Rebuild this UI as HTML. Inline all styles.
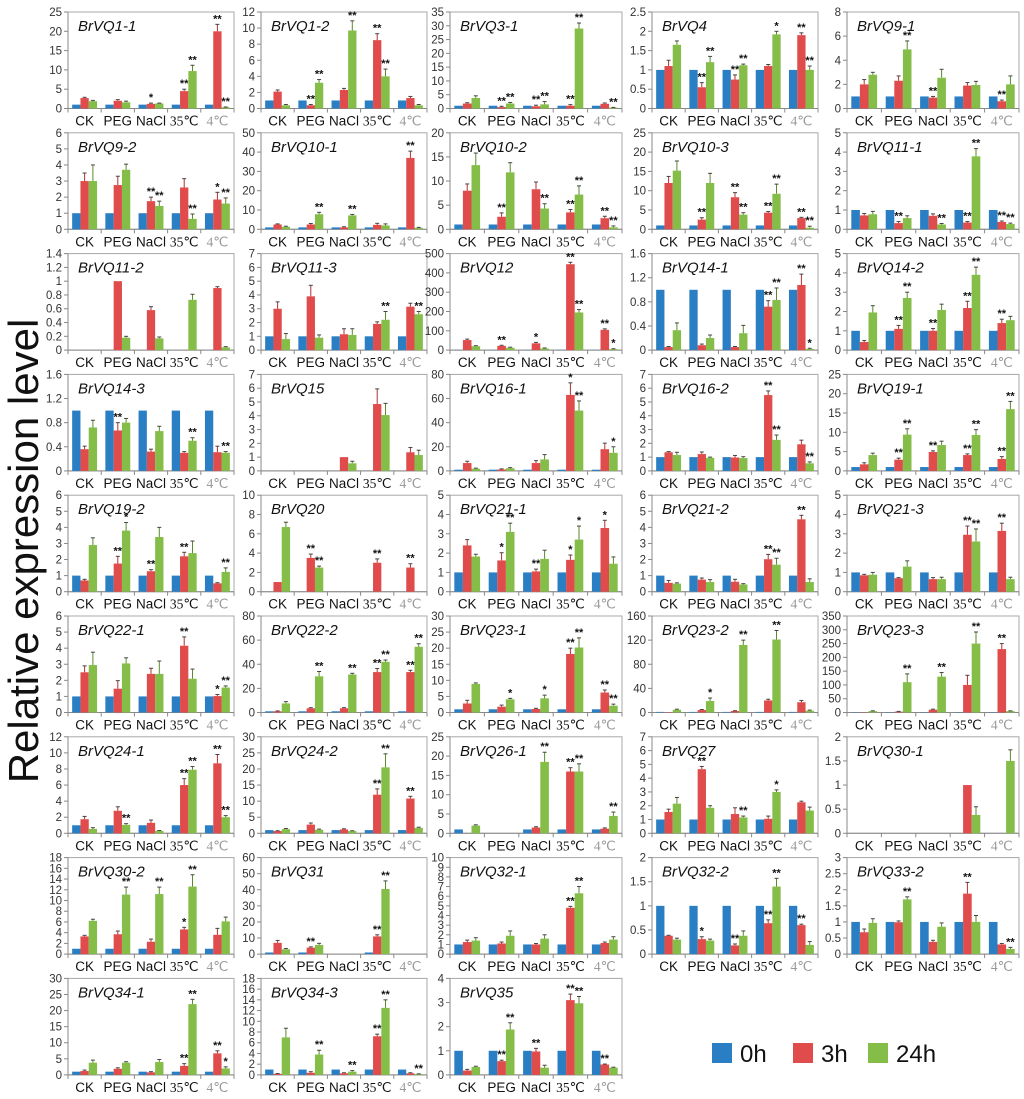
<!DOCTYPE html>
<html><head><meta charset="utf-8"><style>
body{margin:0;background:#fff;}
svg{display:block;font-family:"Liberation Sans",sans-serif;}
</style></head><body>
<svg id="fig" width="1024" height="1099" viewBox="0 0 1024 1099" xmlns="http://www.w3.org/2000/svg">
<rect width="1024" height="1099" fill="#fff"/>
<text transform="translate(38,551) rotate(-90)" text-anchor="middle" font-size="42" fill="#111">Relative expression level</text>
<g>
<rect x="712" y="1043" width="20" height="20" fill="#2a7fc4"/>
<text x="740" y="1062" font-size="24" fill="#111">0h</text>
<rect x="793" y="1043" width="20" height="20" fill="#e04b4b"/>
<text x="821" y="1062" font-size="24" fill="#111">3h</text>
<rect x="868" y="1043" width="20" height="20" fill="#84bd47"/>
<text x="896" y="1062" font-size="24" fill="#111">24h</text>
</g>
</svg>
<script>
const categories=["CK","PEG","NaCl","35℃","4℃"];
const names=["BrVQ1-1","BrVQ1-2","BrVQ3-1","BrVQ4","BrVQ9-1","BrVQ9-2","BrVQ10-1","BrVQ10-2","BrVQ10-3","BrVQ11-1","BrVQ11-2","BrVQ11-3","BrVQ12","BrVQ14-1","BrVQ14-2","BrVQ14-3","BrVQ15","BrVQ16-1","BrVQ16-2","BrVQ19-1","BrVQ19-2","BrVQ20","BrVQ21-1","BrVQ21-2","BrVQ21-3","BrVQ22-1","BrVQ22-2","BrVQ23-1","BrVQ23-2","BrVQ23-3","BrVQ24-1","BrVQ24-2","BrVQ26-1","BrVQ27","BrVQ30-1","BrVQ30-2","BrVQ31","BrVQ32-1","BrVQ32-2","BrVQ33-2","BrVQ34-1","BrVQ34-3","BrVQ35"];
const yMax=[25,12,35,2.5,8,6,50,20,25,5,1.4,7,500,1.6,5,1.6,7,80,7,25,6,10,5,6,5,6,80,30,160,350,12,30,25,7,2,18,60,10,2,3,30,18,4];
const yStep=[5,2,5,0.5,2,1,10,5,5,1,0.2,1,100,0.4,1,0.4,1,20,1,5,1,2,1,1,1,1,20,5,40,50,2,5,5,1,0.5,2,10,1,0.5,0.5,5,2,1];
const Z=[0,0,0,0,0], O=[1,1,1,1,1];
const blue=[O,O,O,O,O,O,O,O,O,O,Z,O,O,O,O,O,Z,O,O,O,O,Z,O,O,O,O,O,O,O,O,O,O,[1,0,1,1,1],O,Z,O,[1,1,0,1,0],O,O,O,O,O,O];
const red=[[2.7,2,1.2,4.5,20],[2.1,0.4,2.3,8.5,1.3],[1.8,0.5,0.8,1,1.7],[1.1,0.55,0.75,1.1,1.9],[2,2.3,0.9,1.9,0.6],[3,2.75,1.75,2.6,1.85],[2.5,2.5,1,2.3,37],[8,2.6,8.3,3.5,2.3],[12,2.5,8.3,4.3,2.9],[0.72,0.32,0.7,0.35,0.38],[0,1,0.58,0,0.9],[3,3.9,1.15,1.9,3.15],[52,22,35,445,105],[0.05,0.08,0.05,0.72,1.08],[0.42,1.1,1,2.18,1.4],[0.36,0.67,0.32,0.3,0.31],[0,0,1,4.85,1.35],[6.5,1.2,6.5,63,18],[1.35,1.22,0.97,5.5,1.93],[1.7,2.9,4.9,4.1,3.1],[0.7,1.75,1.27,2.2,0.52],[1,3.5,0,3,2.5],[2.4,1.62,1.05,1.65,3.3],[0.55,0.75,0.62,2.02,4.5],[0.85,0.7,0.65,2.95,3.15],[2.5,1.48,2.4,4.15,1.02],[1,3.5,3.5,33.5,33.5],[2.8,1.8,1.1,18.2,6.2],[0.5,4,2.5,20,17],[1,3,10,100,230],[1.75,2.8,1.3,6,8.7],[0.7,2.7,1.2,12,10.8],[0,0,1.5,16,1.2],[1.55,4.65,1.4,1.05,2.25],[0,0,0,1,0],[3.3,3.7,2.3,4.6,3.6],[7,4,0,11,0],[1.25,1.1,1,4.8,1.15],[0.38,0.31,0.18,0.64,0.6],[0.68,0.99,0.38,1.88,0.3],[1.2,1.9,0.8,2.8,6.7],[0.2,0.4,0.3,7.2,0.3],[0.18,0.57,0.97,3.1,0.43]];
const green=[[1.9,1.6,1.3,9.7,0.3],[0.4,3.2,9.7,4,0.4],[3.8,1.8,1.5,29,0.3],[1.65,1.2,1.12,1.92,1],[2.8,4.9,2.55,1.95,2],[3,3.7,1.45,0.65,1.6],[1.3,7.8,7.2,2,0.8],[13.3,11.8,4.3,7.2,0.4],[15.2,12,3.8,9.2,0.4],[0.78,0.58,0.25,3.78,0.27],[0,0.18,0.17,0.73,0.04],[0.8,0.9,1.1,2.2,2.6],[20,12,8,195,5],[0.33,0.2,0.28,0.83,0.02],[1.95,2.7,2.08,3.9,1.55],[0.72,0.8,0.66,0.5,0.3],[0,0,0.55,4.05,1.15],[1.8,2.2,9.5,50,15],[1.15,0.95,0.93,2.25,0.55],[4.1,9.4,6.7,9.3,16],[2.9,3.8,3.4,2.4,1.23],[6.7,2.5,0,0,0],[1.82,3.1,1.7,2.7,1.45],[0.5,0.6,0.45,1.68,0.6],[0.88,1.3,0.65,2.6,0.65],[2.95,3.05,2.4,2.1,1.55],[7.5,30,31.5,42,54.5],[8.9,4.1,4.4,20.2,2.1],[4.5,19,112,121,3],[5,110,130,250,5],[0.55,1.05,0.3,7.9,2],[1.3,1.1,0.7,20.5,1.7],[2,0,18.5,16,4.5],[2.15,1.85,1.15,3,1.65],[0,0,0,0.38,1.5],[6.2,11.1,11.2,12.6,6.1],[3,5.7,0,40.5,0],[1.4,1.9,1.6,6.3,1.5],[0.3,0.28,0.38,1.4,0.19],[0.97,1.7,0.85,1,0.16],[3.8,3.8,4,22,2],[7,3.8,0.6,12.5,0.15],[0.33,1.88,0.3,2.97,0.3]];
const errRed=[[0.2,0.3,0.2,0.5,1.8],[0.2,0.1,0.2,0.8,0.2],[0.3,0.3,0.4,0.4,0.3],[0.15,0.12,0.12,0.04,0.06],[0.4,0.4,0.1,0.25,0.1],[0.5,0.55,0.25,0.55,0.45],[0.3,0.5,0.3,0.8,3.5],[1.4,0.8,1.5,0.6,0.4],[1.7,0.5,1.2,0.3,0.2],[0.1,0.08,0.1,0.05,0.05],[0,0,0.05,0,0.02],[0.5,0.8,0.4,0.15,0.25],[5,3,5,10,5],[0.01,0.02,0.01,0.1,0.18],[0.08,0.18,0.12,0.35,0.2],[0.05,0.13,0.04,0.02,0.1],[0,0,0,1.1,0.35],[1.5,0.5,2,10,5],[0.05,0.15,0.15,0.3,0.3],[0.4,0.4,0.3,0.3,0.6],[0.07,0.45,0.1,0.25,0.04],[0,0.4,0,0.4,0.4],[0.3,0.4,0.12,0.25,0.4],[0.15,0.1,0.15,0.3,0.25],[0.05,0.03,0.08,0.45,0.4],[0.4,0.5,0.35,0.55,0.1],[0.3,0.5,0.5,3,1.5],[1,0.5,0.2,1.8,0.8],[0,1,0.5,2,3],[0,1,2,35,20],[0.35,0.5,0.35,0.8,1.1],[0.1,0.5,0.2,1.8,0.7],[0,0,0.2,1,0.2],[0.2,0.2,0.45,0.2,0.08],[0,0,0,0,0],[0.2,0.6,0.5,0.4,1.2],[1.5,0.5,0,1,0],[0.2,0.15,0.1,0.15,0.1],[0.01,0.05,0.03,0.07,0.02],[0.1,0.04,0.05,0.35,0.03],[0.3,0.3,0.2,0.7,0.8],[0.05,0.2,0.1,0.4,0.1],[0.05,0.04,0.13,0.25,0.02]];
const errGreen=[[0.2,0.3,0.1,1.5,0.1],[0.1,0.4,1.2,0.9,0.1],[0.8,0.4,1,2,0.1],[0.1,0.15,0.03,0.08,0.1],[0.2,0.7,0.7,0.3,0.7],[1,0.35,0.3,0.3,0.35],[0.3,1,0.5,0.8,0.2],[2.5,2,1,1.8,0.3],[2.5,2.5,0.5,2.5,0.4],[0.15,0.12,0.05,0.4,0.05],[0,0.02,0.02,0.08,0.01],[0.4,0.2,0.45,0.6,0.2],[3,3,3,15,2],[0.12,0.05,0.13,0.2,0.01],[0.35,0.3,0.3,0.4,0.2],[0.12,0.07,0.08,0.05,0.02],[0,0,0.15,0.85,0.35],[0.5,0.5,4,8,5],[0.2,0.05,0.1,0.35,0.1],[0.5,1.5,1,1.4,2],[0.45,0.5,0.6,0.75,0.25],[0.5,0.15,0,0,0],[0.12,0.45,0.45,0.7,0.35],[0.05,0.15,0.05,0.4,0.2],[0.12,0.3,0.1,0.65,0.1],[0.8,0.35,0.8,0.6,0.1],[1.5,4,1,1.5,2.5],[0.3,0.3,1,3,0.5],[1,5,8,15,1],[1,30,15,42,1],[0.15,0.15,0.05,0.4,0.2],[0.2,0.2,0.1,4.2,0.2],[0.2,0,2.5,2,1],[0.45,0.15,0.1,0.15,0.25],[0,0,0,0.17,0.23],[0.3,1.4,1.3,2.2,0.8],[0.5,1,0,5,0],[0.3,0.5,0.4,0.7,0.3],[0.03,0.03,0.1,0.17,0.07],[0.13,0.08,0.12,0.2,0.05],[0.8,0.3,0.8,1.5,0.5],[1.7,0.8,0.2,1.5,0.05],[0.03,0.28,0.1,0.28,0.02]];
const starRed=[[0,0,1,2,2],[0,2,0,2,0],[0,2,2,2,0],[0,2,2,0,2],[0,0,2,0,2],[0,0,2,0,1],[0,0,0,0,2],[0,2,0,2,2],[0,2,2,2,2],[0,2,0,2,2],Z,Z,[0,2,1,2,2],[0,0,0,2,2],[0,2,2,2,2],[0,2,0,0,0],Z,[0,0,0,1,0],[0,0,0,2,0],[0,2,2,2,2],[0,2,2,2,0],[0,2,0,2,2],[0,1,2,1,1],[0,0,0,2,2],[0,0,0,2,2],[0,0,0,2,1],[0,0,0,2,2],[0,0,0,2,2],Z,[0,0,0,0,2],[0,0,0,2,2],[0,0,0,2,2],[0,0,0,2,0],[0,2,0,0,0],Z,[0,0,0,1,0],[0,2,0,2,0],[0,0,0,2,0],[0,1,2,2,2],[0,0,0,2,0],[0,0,0,2,2],[0,0,0,2,0],[0,2,2,2,2]];
const starGreen=[[0,0,0,2,2],[0,2,2,2,0],[0,2,2,2,2],[0,2,2,1,2],[0,2,0,0,0],[0,0,2,2,2],[0,2,2,0,0],[0,0,2,2,2],[0,0,2,2,2],[0,0,2,2,2],Z,[0,0,0,2,2],[0,0,0,2,1],[0,0,0,2,1],[0,2,0,2,0],[0,0,0,2,2],Z,[0,0,0,2,1],[0,0,0,2,2],[0,2,0,2,2],[0,1,0,0,2],[0,2,0,0,0],[0,2,0,1,0],[0,0,0,2,0],[0,0,0,2,0],[0,0,0,0,2],[0,2,2,2,2],[0,1,1,2,2],[0,1,2,2,0],[0,2,2,2,0],[0,2,0,2,2],[0,0,0,2,0],[0,0,2,2,2],[0,0,2,1,0],Z,[0,2,2,2,0],[0,0,0,2,0],[0,0,0,2,0],[0,0,0,2,0],[0,2,0,0,2],[0,0,0,2,1],[0,2,2,2,2],[0,2,0,2,0]];

const NS="http://www.w3.org/2000/svg";
const svg=document.getElementById('fig');
const colLeft=[68,261,450,652,847], colW=[166,166,172,166,172];
const colors=["#2a7fc4","#e04b4b","#84bd47"];
function mk(tag,attrs,parent){const e=document.createElementNS(NS,tag);for(const k in attrs)e.setAttribute(k,attrs[k]);(parent||svg).appendChild(e);return e;}
function fmt(v){return String(parseFloat(v.toFixed(2)));}

names.forEach((nm,i)=>{
  const r=Math.floor(i/5), c=i%5;
  const L=colLeft[c], W=colW[c], T=12+r*120.8, H=96.5, B=T+H;
  const yS=v=>B-(Math.min(v,yMax[i])/yMax[i])*H;
  const g=mk('g',{});
  
  
  const fr=mk('rect',{x:L,y:T,width:W,height:H,fill:'none',stroke:'#a8a8a8','stroke-width':1},g);
  
  
  mk('line',{x1:L,y1:T,x2:L,y2:B,stroke:'#888','stroke-width':1},g);
  mk('line',{x1:L,y1:B,x2:L+W,y2:B,stroke:'#888','stroke-width':1},g);
  const nT=Math.round(yMax[i]/yStep[i]);
  for(let k=0;k<=nT;k++){
    const v=k*yStep[i], y=yS(v);
    mk('line',{x1:L-4,y1:y,x2:L,y2:y,stroke:'#888'},g);
    const t=mk('text',{x:L-6,y:y+4,'text-anchor':'end','font-size':11.5,fill:'#333'},g);
    t.textContent=fmt(v);
    
    
  }
  const gw=W/5;
  for(let k=0;k<=5;k++){mk('line',{x1:L+k*gw,y1:B,x2:L+k*gw,y2:B+4,stroke:'#888'},g);}
  const title=mk('text',{x:L+10,y:T+19,'font-size':15,'font-style':'italic',fill:'#111'},g);
  title.textContent=nm;
  
  
  const series=[blue[i],red[i],green[i]], errs=[null,errRed[i],errGreen[i]], stars=[null,starRed[i],starGreen[i]];
  const bw=gw*0.25;
  categories.forEach((cat,j)=>{
    const gx=L+j*gw+gw*0.125;
    series.forEach((s,k)=>{
      const v=s[j]; if(!v) return;
      const x=gx+k*bw, y=yS(v);
      const b=mk('rect',{x:x,y:y,width:bw,height:B-y,fill:colors[k]},g);
      
      
      let top=y;
      if(errs[k]&&errs[k][j]>0){
        const ey=yS(v+errs[k][j]); const cx=x+bw/2;
        mk('line',{x1:cx,y1:y,x2:cx,y2:ey,stroke:k===1?'#b03030':'#5a8a2a','stroke-width':1},g);
        mk('line',{x1:cx-2,y1:ey,x2:cx+2,y2:ey,stroke:'#444','stroke-width':1},g);
        top=ey;
      }
      if(stars[k]&&stars[k][j]>0){
        const st=mk('text',{x:x+bw/2,y:top-2,'text-anchor':'middle','font-size':11,'font-weight':'bold',fill:'#111'},g);
        st.textContent=stars[k][j]===2?'**':'*';
        
        
      }
    });
    const lab=mk('text',{x:L+j*gw+gw/2,y:B+17,'text-anchor':'middle','font-size':13.5,fill:j===4?'#999':'#111'},g);
    if(j>=3) lab.setAttribute('font-family','"Liberation Serif",serif');
    lab.textContent=cat;
    
    
  });
});
</script>
</body></html>
